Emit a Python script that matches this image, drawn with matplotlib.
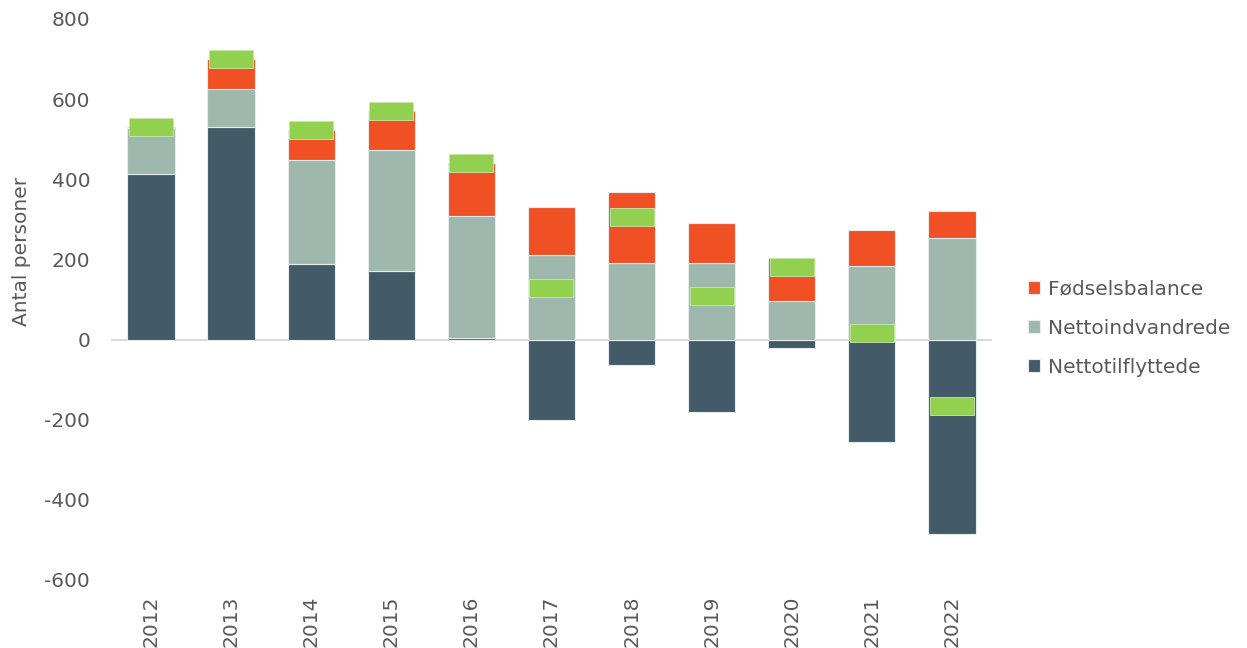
import matplotlib
matplotlib.use("Agg")
import matplotlib.pyplot as plt
import numpy as np
from matplotlib.path import Path

plt.rcParams["font.family"] = "DejaVu Sans"
plt.rcParams["font.size"] = 14
plt.rcParams["axes.unicode_minus"] = False

years = ["2012", "2013", "2014", "2015", "2016", "2017", "2018", "2019", "2020", "2021", "2022"]
nettotilflyttede = [412, 530, 188, 171, 4, -202, -64, -181, -22, -256, -486]
nettoindvandrede = [117, 95, 261, 301, 304, 212, 190, 191, 97, 184, 254]
foedselsbalance = [2, 75, 73, 99, 133, 119, 179, 99, 106, 89, 67]

c_dark = "#435A69"
c_gray = "#9FB8AD"
c_red = "#F05023"
c_green = "#92D050"
c_text = "#595959"

tilf = np.array(nettotilflyttede)
indv = np.array(nettoindvandrede)
foed = np.array(foedselsbalance)
total = tilf + indv + foed
x = np.arange(len(years))

fig = plt.figure(figsize=(12.47, 6.48), dpi=100)
ax = fig.add_axes([0.089, 0.105, 0.7065, 0.8657])

w = 0.59
edge = dict(edgecolor="#e6ecee", linewidth=0.8)
b1 = ax.bar(x, tilf, w, color=c_dark, label="Nettotilflyttede", zorder=2, **edge)
pos_base = np.clip(tilf, 0, None)
b2 = ax.bar(x, indv, w, bottom=pos_base, color=c_gray, label="Nettoindvandrede", zorder=2, **edge)
b3 = ax.bar(x, foed, w, bottom=pos_base + indv, color=c_red, label="Fødselsbalance", zorder=2, **edge)

# total shown as a wide green dash
rect = Path([(-1, -0.4), (1, -0.4), (1, 0.4), (-1, 0.4), (-1, -0.4)],
            [Path.MOVETO, Path.LINETO, Path.LINETO, Path.LINETO, Path.CLOSEPOLY])
ax.plot(x, total, linestyle="none", marker=rect, markersize=44 * 72 / 100,
        markerfacecolor=c_green, markeredgecolor="#c8e8a8", markeredgewidth=0.6, zorder=4)

ax.axhline(0, color="#d9d9d9", linewidth=1.5, zorder=1)

ax.set_xlim(-0.5, 10.5)
ax.set_ylim(-600, 800)
ax.set_yticks(np.arange(-600, 801, 200))
ax.set_xticks(x)
ax.set_xticklabels(years, rotation=90)
ax.tick_params(axis="both", length=0, colors=c_text, labelsize=14.5)
ax.tick_params(axis="x", pad=11)
ax.tick_params(axis="y", pad=15)
for s in ax.spines.values():
    s.set_visible(False)

ax.set_ylabel("Antal personer", color=c_text, fontsize=14.5)
ax.yaxis.set_label_coords(-0.091, 0.585)

ax.legend(handles=[b3, b2, b1], loc="center left", bbox_to_anchor=(1.041, 0.449),
          frameon=False, fontsize=14.5, labelcolor=c_text, borderaxespad=0, borderpad=0,
          handlelength=0.6, handleheight=0.6, handletextpad=0.4, labelspacing=1.0)

fig.savefig("out.png", dpi=100)
